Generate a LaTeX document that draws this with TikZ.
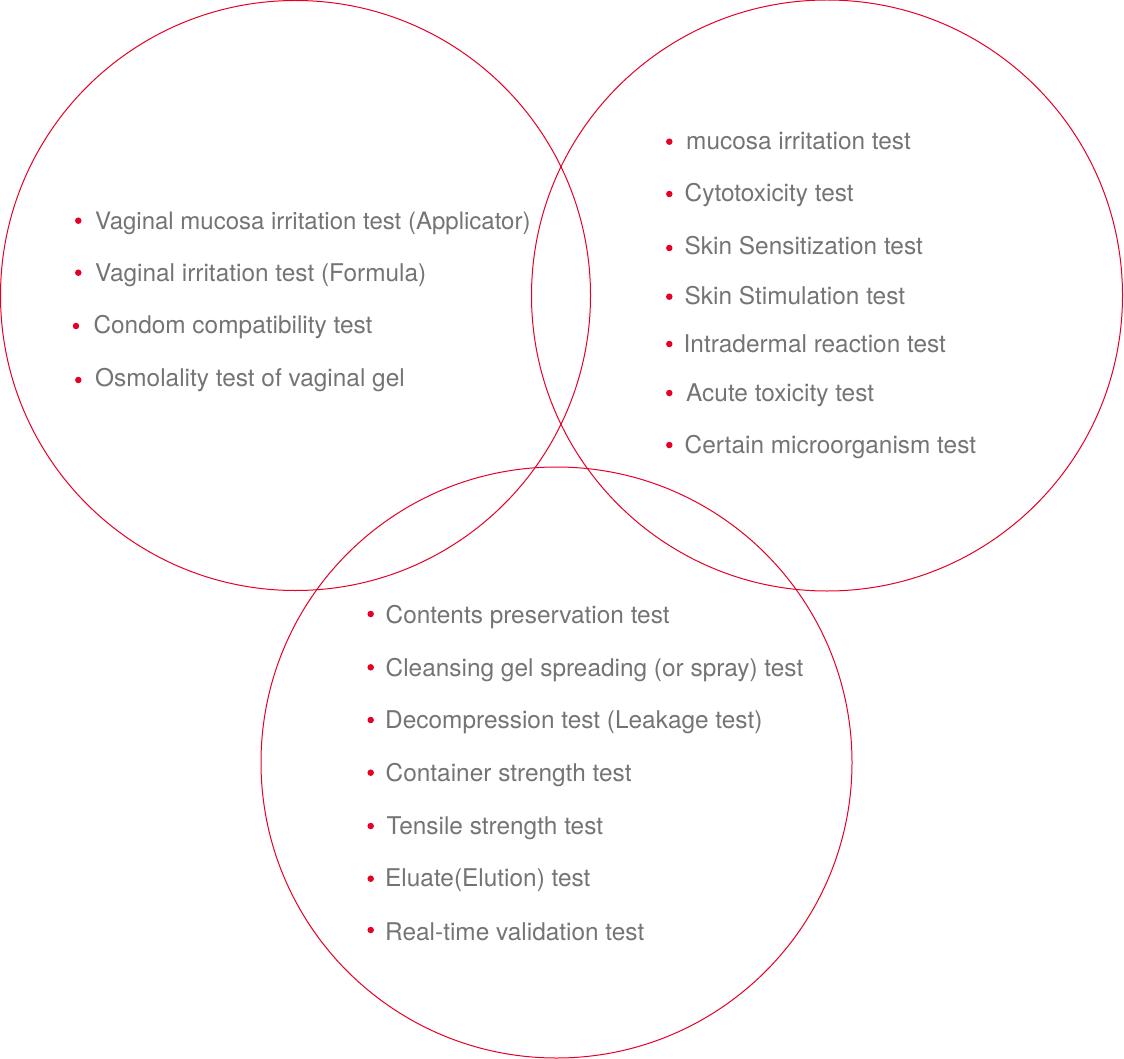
\documentclass[tikz,border=0pt]{standalone}
\usepackage{fontspec}
\setmainfont{TeX Gyre Heros}
\definecolor{vred}{HTML}{E60026}
\definecolor{vgray}{HTML}{747474}
\begin{document}
\begin{tikzpicture}[x=1pt,y=-1pt,
  ring/.style={draw=vred,line width=1pt},
  item/.style={anchor=base west,inner sep=0pt,text=vgray,font=\fontsize{24.4}{28}\selectfont},
  dot/.style={circle,fill=vred,inner sep=0pt,minimum size=6.5pt}]
\useasboundingbox (0,0) rectangle (1124,1059);
\draw[ring] (295.5,295.5) circle (295);
\draw[ring] (827,295.5) circle (295.5);
\draw[ring] (556.5,762.5) circle (295.5);
% left
\node[dot] (l1b) at (78.3,220.7) {};
\node[item,font=\fontsize{24}{28}\selectfont] (l1) at (95,229.3) {Vaginal mucosa irritation test (Applicator)};
\node[dot] (l2b) at (78.3,272.7) {};
\node[item] (l2) at (95,281.7) {Vaginal irritation test (Formula)};
\node[dot] (l3b) at (76,326) {};
\node[item] (l3) at (93.3,333.3) {Condom compatibility test};
\node[dot] (l4b) at (78.3,380) {};
\node[item] (l4) at (95,386.7) {Osmolality test of vaginal gel};
% right
\node[dot] (r1b) at (669.3,141.7) {};
\node[item] (r1) at (686,150) {mucosa irritation test};
\node[dot] (r2b) at (669.3,194) {};
\node[item] (r2) at (684.5,201.7) {Cytotoxicity test};
\node[dot] (r3b) at (669.3,248) {};
\node[item] (r3) at (684.5,255) {Skin Sensitization test};
\node[dot] (r4b) at (669.3,296.7) {};
\node[item] (r4) at (684.5,305) {Skin Stimulation test};
\node[dot] (r5b) at (669.3,344) {};
\node[item] (r5) at (683.5,352) {Intradermal reaction test};
\node[dot] (r6b) at (669.3,393) {};
\node[item] (r6) at (686,401) {Acute toxicity test};
\node[dot] (r7b) at (669.3,445) {};
\node[item] (r7) at (684.5,453) {Certain microorganism test};
% bottom
\node[dot] (b1b) at (370.7,614) {};
\node[item] (b1) at (385.5,623.3) {Contents preservation test};
\node[dot] (b2b) at (370.7,667.3) {};
\node[item] (b2) at (385.5,676) {Cleansing gel spreading (or spray) test};
\node[dot] (b3b) at (370.7,720) {};
\node[item] (b3) at (385,728.3) {Decompression test (Leakage test)};
\node[dot] (b4b) at (370.7,772.7) {};
\node[item] (b4) at (385.5,781.7) {Container strength test};
\node[dot] (b5b) at (370.7,826) {};
\node[item] (b5) at (386.5,834.3) {Tensile strength test};
\node[dot] (b6b) at (370.7,878.7) {};
\node[item] (b6) at (385,886.7) {Eluate(Elution) test};
\node[dot] (b7b) at (370.7,930) {};
\node[item] (b7) at (385,940) {Real-time validation test};
\end{tikzpicture}
\end{document}
